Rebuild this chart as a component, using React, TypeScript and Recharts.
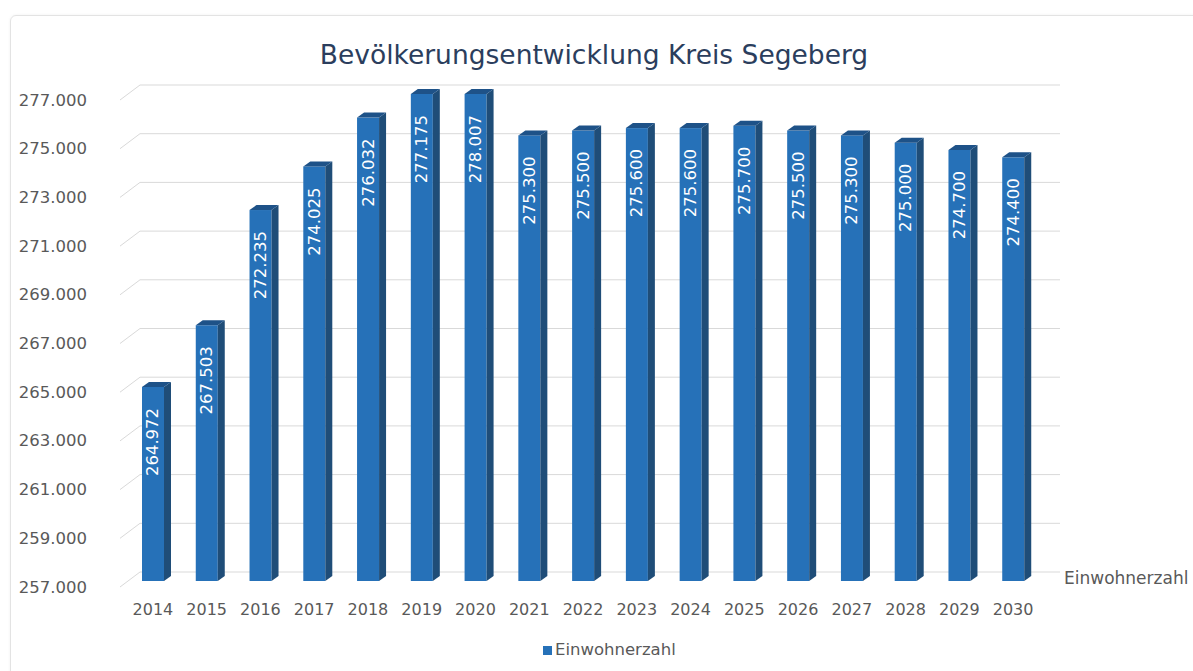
import React from 'react';
import { BarChart, Bar, XAxis, YAxis, CartesianGrid, LabelList } from 'recharts';

const years = ['2014', '2015', '2016', '2017', '2018', '2019', '2020', '2021', '2022',
  '2023', '2024', '2025', '2026', '2027', '2028', '2029', '2030'];
const einwohner = [264972, 267503, 272235, 274025, 276032, 277175, 278007, 275300, 275500,
  275600, 275600, 275700, 275500, 275300, 275000, 274700, 274400];
const yTicks = [257000, 259000, 261000, 263000, 265000, 267000, 269000, 271000, 273000, 275000, 277000];
const Y_MIN = 257000;
const Y_MAX = 277000;

// the 3D chart cuts the bars off at the top of the axis
const data = years.map((year, i) => ({
  year,
  value: einwohner[i],
  shown: Math.min(einwohner[i], Y_MAX),
}));

const fmt = (v: number) => (v / 1000).toFixed(3);

const FONT = '"DejaVu Sans", Verdana, sans-serif';
const GREY = '#595959';
const DEPTH_X = 7;
const DEPTH_Y = 5;

const Bar3D = (props: any) => {
  const { x, y, width, height } = props;
  if (!height || height <= 0) return null;
  const r = x + width;
  return (
    <g>
      <rect x={x} y={y} width={width} height={height} fill="#2671b8" />
      <polygon
        points={`${r},${y + height} ${r + DEPTH_X},${y + height - DEPTH_Y} ${r + DEPTH_X},${y - DEPTH_Y} ${r},${y}`}
        fill="#1f4d78"
      />
      <polygon
        points={`${x},${y} ${x + DEPTH_X},${y - DEPTH_Y} ${r + DEPTH_X},${y - DEPTH_Y} ${r},${y}`}
        fill="#1e5288"
      />
    </g>
  );
};

const gridLine = (props: any) => {
  const { y1, index } = props;
  const fy = y1 + 6;
  const by = y1 - 9;
  return (
    <path
      key={`g-${index}-${y1}`}
      d={`M120,${fy} L140,${by} L1060,${by}`}
      stroke="#d9d9d9"
      strokeWidth={1}
      fill="none"
    />
  );
};

const YTick = (props: any) => {
  const { y, payload } = props;
  return (
    <text x={87} y={y + 6} textAnchor="end" dominantBaseline="central"
      fontFamily={FONT} fontSize={16.5} fill={GREY}>
      {fmt(payload.value)}
    </text>
  );
};

const XTick = (props: any) => {
  const { x, payload } = props;
  return (
    <text x={x} y={609} textAnchor="middle" dominantBaseline="central"
      fontFamily={FONT} fontSize={16} fill={GREY}>
      {payload.value}
    </text>
  );
};

const ValueLabel = (props: any) => {
  const { x, y, width, value } = props;
  const cx = x + width / 2;
  const ay = y + 21;
  return (
    <text x={cx} y={ay} transform={`rotate(-90, ${cx}, ${ay})`} textAnchor="end"
      dominantBaseline="central" fontFamily={FONT} fontSize={16.5} fill="#ffffff">
      {fmt(value)}
    </text>
  );
};

export default function App() {
  return (
    <div style={{ position: 'absolute', left: 0, top: 0, width: 1193, height: 671, background: '#fff', overflow: 'hidden' }}>
      <div style={{
        position: 'absolute', left: 10, top: 15, width: 1220, height: 700,
        border: '1px solid #e3e3e3', borderRadius: 6, boxShadow: '0 0 3px rgba(0,0,0,0.06)',
      }} />
      <div style={{
        position: 'absolute', left: 0, width: 1188, top: 36, textAlign: 'center',
        fontFamily: FONT, fontSize: 26.5, color: '#2b3e5d', lineHeight: '38px',
      }}>
        Bevölkerungsentwicklung Kreis Segeberg
      </div>
      <div style={{ position: 'absolute', left: 0, top: 0 }}>
        <BarChart width={1193} height={671} data={data}
          margin={{ top: 94, right: 153, bottom: 60, left: 0 }} barSize={22}>
          <CartesianGrid horizontal={gridLine} vertical={false} />
          <XAxis dataKey="year" axisLine={false} tickLine={false} height={30}
            interval={0} tick={<XTick />} />
          <YAxis domain={[Y_MIN, Y_MAX]} ticks={yTicks} interval={0} width={126}
            axisLine={false} tickLine={false} tick={<YTick />} />
          <Bar dataKey="shown" shape={<Bar3D />} isAnimationActive={false}>
            <LabelList dataKey="value" content={<ValueLabel />} />
          </Bar>
        </BarChart>
      </div>
      <div style={{
        position: 'absolute', left: 1064, top: 567, fontFamily: FONT, fontSize: 17,
        color: GREY, lineHeight: '22px',
      }}>
        Einwohnerzahl
      </div>
      <div style={{
        position: 'absolute', left: 543, top: 640, display: 'flex', alignItems: 'center',
        fontFamily: FONT, fontSize: 16.5, color: GREY, lineHeight: '20px',
      }}>
        <span style={{ display: 'inline-block', width: 9, height: 9, background: '#2671b8', marginRight: 3 }} />
        Einwohnerzahl
      </div>
    </div>
  );
}
